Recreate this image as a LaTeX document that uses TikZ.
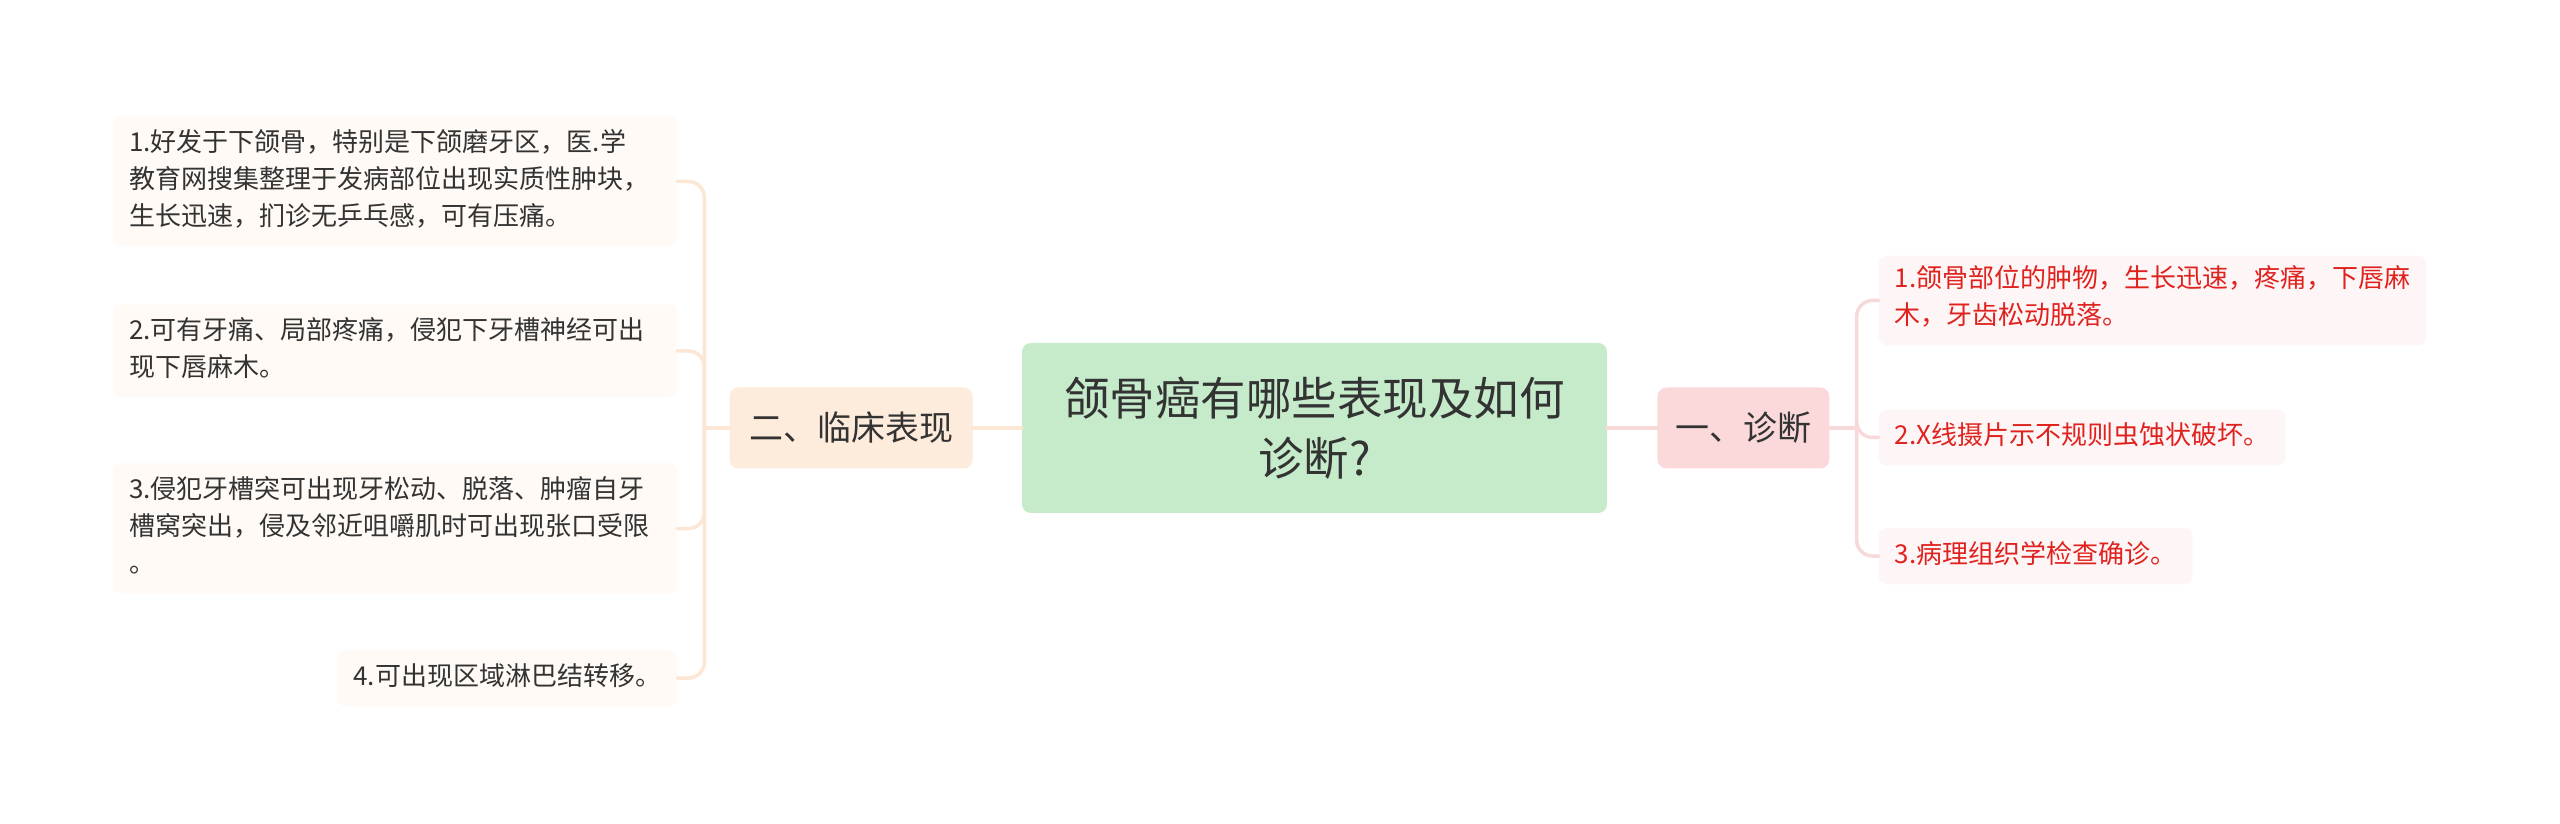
\documentclass[tikz,border=0pt]{standalone}
\usepackage{fontspec}
\setmainfont{Noto Sans CJK SC}
\usetikzlibrary{positioning}
\definecolor{rootfill}{HTML}{C5EBCB}
\definecolor{lfill}{HTML}{FDEBDB}
\definecolor{lleaf}{HTML}{FFFAF5}
\definecolor{lline}{HTML}{FCE6D4}
\definecolor{rfill}{HTML}{FBD9DA}
\definecolor{rleaf}{HTML}{FEF6F6}
\definecolor{rline}{HTML}{F8D9DA}
\definecolor{rtext}{HTML}{E0221E}
\definecolor{dtext}{HTML}{333333}

\begin{document}
\begin{tikzpicture}
                [x=1pt,y=1pt,
                root/.style={rectangle,rounded corners=9pt,fill=rootfill,text=dtext,align=center,
                  minimum width=585pt,minimum height=170pt,font=\fontsize{45.5pt}{60pt}\selectfont},
                branch/.style={rectangle,rounded corners=9pt,text=dtext,minimum height=81pt,
                  font=\fontsize{34pt}{40pt}\selectfont},
                leaf/.style={rectangle,rounded corners=8pt,align=left,inner xsep=16pt,inner ysep=9.5pt,
                  font=\fontsize{26pt}{37pt}\selectfont,
                  execute at begin node=\strut,execute at end node=\strut},
                lf/.style={leaf,fill=lleaf,text=dtext},
                rt/.style={leaf,fill=rleaf,text=rtext},
                lk/.style={line width=3.5pt,line cap=round},
                fork/.style={to path={|- (\tikztotarget)},rounded corners=16pt}]
                \useasboundingbox[fill=white] (0,0) rectangle (2560,823);
                \node[root] (q) at (1314.5,395) {颌骨癌有哪些表现及如何\\诊断?};
                \node[branch,fill=lfill,minimum width=243pt] (clin)[left=49pt of q]{二、临床表现};
                \node[branch,fill=rfill,minimum width=172pt] (diag)[right=50pt of q]{一、诊断};
                % left side
                \node[lf,text width=532pt] (c1)[left=52pt of clin,yshift=246.5pt]
                  {1.好发于下颌骨，特别是下颌磨牙区，医.学\\教育网搜集整理于发病部位出现实质性肿块，\\生长迅速，扪诊无乒乓感，可有压痛。};
                \node[lf,text width=532pt] (c2)[left=52pt of clin,yshift=77pt]
                  {2.可有牙痛、局部疼痛，侵犯下牙槽神经可出\\现下唇麻木。};
                \node[lf,text width=532pt] (c3)[left=52pt of clin,yshift=-100.5pt]
                  {3.侵犯牙槽突可出现牙松动、脱落、肿瘤自牙\\槽窝突出，侵及邻近咀嚼肌时可出现张口受限\\。};
                \node[lf] (c4)[left=52pt of clin,yshift=-250pt]{4.可出现区域淋巴结转移。};
                % right side
                \node[rt] (d1)[right=49pt of diag,yshift=127.5pt]
                  {1.颌骨部位的肿物，生长迅速，疼痛，下唇麻\\木，牙齿松动脱落。};
                \node[rt] (d2)[right=49pt of diag,yshift=-9.5pt]{2.X线摄片示不规则虫蚀状破坏。};
                \node[rt] (d3)[right=49pt of diag,yshift=-128pt]{3.病理组织学检查确诊。};
                \coordinate[left=25pt of clin.west] (cj);
                \coordinate[right=27pt of diag.east] (dj);
                \path[lk,draw=lline](q) edge (clin)
                        (clin.west) edge (cj)
                        (cj) edge[fork] (c1.east)
                             edge[fork] (c2.east)
                             edge[fork] (c3.east)
                             edge[fork] (c4.east);
                \path[lk,draw=rline](q) edge (diag)
                        (diag.east) edge (dj)
                        (dj) edge[fork] (d1.west)
                             edge[fork] (d2.west)
                             edge[fork] (d3.west);
            \end{tikzpicture}
\end{document}
